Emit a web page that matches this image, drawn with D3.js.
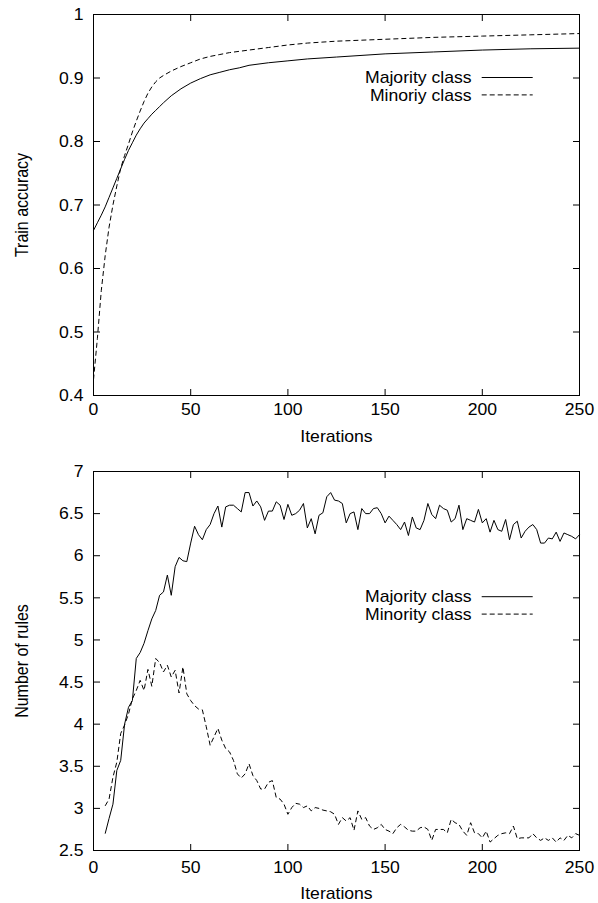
<!DOCTYPE html>
<html><head><meta charset="utf-8">
<script src="https://cdn.jsdelivr.net/npm/d3@7"></script>
<style>body{margin:0;background:#fff}svg{display:block}</style>
</head><body>
<script>
// ---------- data ----------
const topIters = [0,2,4,6,8,10,12,14,16,18,20,22,24,26,28,30,32,34,36,40,45,50,55,60,65,70,75,80,90,100,110,125,150,175,200,225,250];
const topMajority = [0.660,0.672,0.684,0.697,0.712,0.727,0.742,0.757,0.772,0.786,0.798,0.810,0.820,0.829,0.836,0.843,0.849,0.855,0.861,0.872,0.883,0.892,0.899,0.905,0.909,0.913,0.916,0.920,0.924,0.927,0.930,0.933,0.938,0.941,0.944,0.946,0.947];
const topMinority = [0.425,0.490,0.565,0.620,0.665,0.700,0.730,0.758,0.778,0.796,0.815,0.832,0.848,0.863,0.876,0.886,0.894,0.900,0.904,0.911,0.918,0.924,0.930,0.934,0.937,0.940,0.942,0.944,0.948,0.952,0.955,0.958,0.961,0.964,0.966,0.968,0.970];

const botIters = [6,8,10,12,14,16,18,20,22,24,26,28,30,32,34,36,38,40,42,44,46,48,50,52,54,56,58,60,62,64,66,68,70,72,74,76,78,80,82,84,86,88,90,92,94,96,98,100,102,104,106,108,110,112,114,116,118,120,122,124,126,128,130,132,134,136,138,140,142,144,146,148,150,152,154,156,158,160,162,164,166,168,170,172,174,176,178,180,182,184,186,188,190,192,194,196,198,200,202,204,206,208,210,212,214,216,218,220,222,224,226,228,230,232,234,236,238,240,242,244,246,248,250];
const botMajority = [2.70,2.88,3.05,3.45,3.57,4.00,4.20,4.28,4.78,4.85,4.96,5.11,5.25,5.35,5.53,5.57,5.77,5.53,5.87,5.98,5.94,5.93,6.15,6.35,6.25,6.19,6.31,6.37,6.50,6.59,6.34,6.58,6.60,6.60,6.56,6.52,6.75,6.75,6.59,6.65,6.58,6.42,6.53,6.53,6.64,6.60,6.43,6.61,6.48,6.50,6.54,6.62,6.33,6.44,6.26,6.48,6.51,6.70,6.75,6.66,6.65,6.62,6.39,6.50,6.52,6.31,6.56,6.50,6.50,6.56,6.57,6.50,6.39,6.47,6.42,6.37,6.31,6.40,6.24,6.46,6.33,6.31,6.42,6.62,6.49,6.44,6.60,6.56,6.54,6.40,6.44,6.60,6.31,6.44,6.42,6.40,6.55,6.39,6.44,6.28,6.42,6.31,6.29,6.43,6.19,6.37,6.41,6.21,6.29,6.34,6.37,6.31,6.15,6.15,6.21,6.20,6.28,6.17,6.27,6.25,6.23,6.20,6.25];
const botMinority = [3.03,3.11,3.37,3.55,3.89,3.99,4.12,4.30,4.40,4.52,4.40,4.65,4.45,4.78,4.73,4.62,4.70,4.56,4.64,4.37,4.68,4.36,4.28,4.22,4.18,4.17,3.97,3.75,3.85,3.95,3.81,3.71,3.67,3.57,3.41,3.36,3.41,3.53,3.39,3.33,3.23,3.23,3.31,3.33,3.13,3.11,3.05,2.93,3.01,3.06,3.05,3.01,3.03,2.97,3.01,3.00,2.98,2.97,2.96,2.93,2.81,2.89,2.85,2.89,2.74,2.97,2.87,2.89,2.79,2.75,2.77,2.81,2.75,2.73,2.70,2.77,2.81,2.78,2.74,2.73,2.73,2.77,2.78,2.75,2.62,2.75,2.75,2.75,2.71,2.87,2.83,2.81,2.73,2.68,2.83,2.71,2.70,2.65,2.73,2.60,2.64,2.68,2.70,2.71,2.70,2.79,2.64,2.65,2.65,2.65,2.70,2.65,2.62,2.65,2.62,2.65,2.60,2.65,2.62,2.68,2.65,2.70,2.68];

const xTicks = [0,50,100,150,200,250];
const topYTicks = [0.4,0.5,0.6,0.7,0.8,0.9,1];
const botYTicks = [2.5,3,3.5,4,4.5,5,5.5,6,6.5,7];
const topLegend = ["Majority class","Minoriy class"];
const botLegend = ["Majority class","Minority class"];
const xTitle = "Iterations";
const topYTitle = "Train accuracy";
const botYTitle = "Number of rules";

// ---------- drawing ----------
const W = 598, H = 903;
const svg = d3.select("body").append("svg").attr("width", W).attr("height", H);
const FONT = "'Liberation Sans', Arial, Helvetica, sans-serif";
const SX = 1.1; // horizontal stretch of glyphs in the reference
const fmt = d3.format("~g");
const dash = "5,3";

function text(x, y, str, anchor, rotate) {
  const g = svg.append("g").attr("transform", `translate(${x},${y}) scale(${SX},1)` + (rotate ? " rotate(-90)" : ""));
  g.append("text").attr("x", 0).attr("y", 0)
    .attr("text-anchor", anchor).attr("font-family", FONT).attr("font-size", 16).attr("fill", "#000")
    .text(str);
}

function panel(cfg) {
  const x = d3.scaleLinear().domain([0, 250]).range([93.5, 579.5]);
  const y = d3.scaleLinear().domain(cfg.yDomain).range([cfg.bottom, cfg.top]);
  const g = svg.append("g");
  const tl = 6.5;
  // ticks (inward, mirrored)
  cfg.yTicks.forEach(v => {
    g.append("line").attr("x1", x(0)).attr("x2", x(0) + tl).attr("y1", y(v)).attr("y2", y(v)).attr("stroke", "#000");
    g.append("line").attr("x1", x(250)).attr("x2", x(250) - tl).attr("y1", y(v)).attr("y2", y(v)).attr("stroke", "#000");
    text(83.5, y(v) + 5.7, fmt(v), "end");
  });
  xTicks.forEach(v => {
    g.append("line").attr("x1", x(v)).attr("x2", x(v)).attr("y1", cfg.bottom).attr("y2", cfg.bottom - tl).attr("stroke", "#000");
    g.append("line").attr("x1", x(v)).attr("x2", x(v)).attr("y1", cfg.top).attr("y2", cfg.top + tl).attr("stroke", "#000");
    text(x(v), cfg.tickBase, fmt(v), "middle");
  });
  // frame
  g.append("rect").attr("x", x(0)).attr("y", cfg.top).attr("width", x(250) - x(0)).attr("height", cfg.bottom - cfg.top)
    .attr("fill", "none").attr("stroke", "#000").attr("stroke-width", 1);
  // titles
  text(336.5, cfg.titleBase, xTitle, "middle");
  text(27.5, (cfg.top + cfg.bottom) / 2, cfg.yTitle, "middle", true);
  // series
  const line = d3.line().x(d => x(d[0])).y(d => y(d[1]));
  const maj = cfg.iters.map((t, i) => [t, cfg.maj[i]]);
  const min = cfg.iters.map((t, i) => [t, cfg.min[i]]);
  g.append("path").attr("d", line(maj)).attr("fill", "none").attr("stroke", "#000").attr("stroke-width", 1);
  g.append("path").attr("d", line(min)).attr("fill", "none").attr("stroke", "#000").attr("stroke-width", 1).attr("stroke-dasharray", dash);
  // legend
  cfg.legend.forEach((lab, i) => {
    const ly = cfg.legendY + i * 17.4;
    text(471.5, ly + 5.7, lab, "end");
    const l = g.append("line").attr("x1", 481.7).attr("x2", 532.7).attr("y1", ly).attr("y2", ly)
      .attr("stroke", "#000").attr("stroke-width", 1);
    if (i === 1) l.attr("stroke-dasharray", dash);
  });
}

panel({top: 14.5, bottom: 395.5, yDomain: [0.4, 1], yTicks: topYTicks, tickBase: 415, titleBase: 442,
  yTitle: topYTitle, iters: topIters, maj: topMajority, min: topMinority, legend: topLegend, legendY: 77.5});
panel({top: 471.5, bottom: 850.5, yDomain: [2.5, 7], yTicks: botYTicks, tickBase: 873, titleBase: 899,
  yTitle: botYTitle, iters: botIters, maj: botMajority, min: botMinority, legend: botLegend, legendY: 596.7});
</script>
</body></html>
